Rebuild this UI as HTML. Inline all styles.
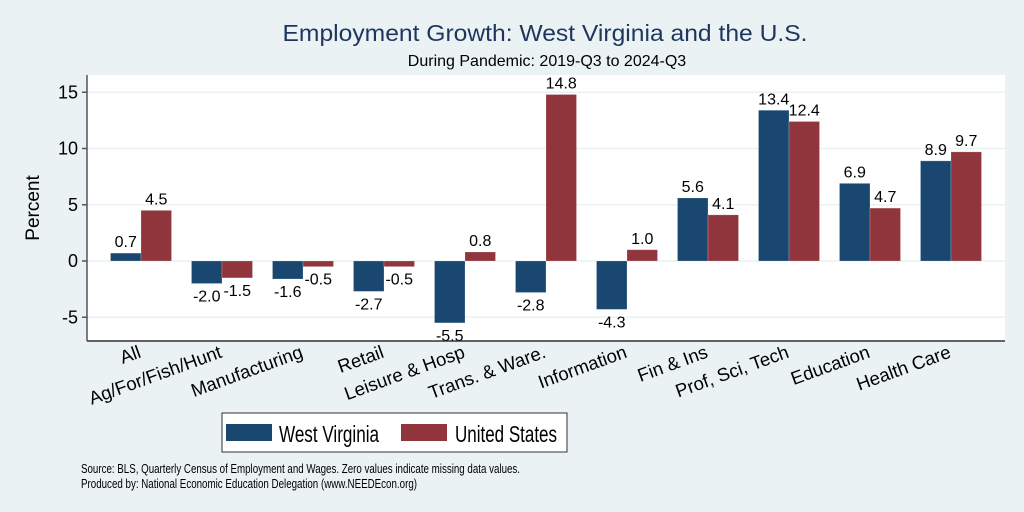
<!DOCTYPE html>
<html><head><meta charset="utf-8"><style>
html,body{margin:0;padding:0;background:#eaf2f3;}
svg{display:block;font-family:"Liberation Sans",sans-serif;}
</style></head><body>
<svg id="chart" width="1024" height="512" viewBox="0 0 1024 512">
<rect x="0" y="0" width="1024" height="512" fill="#eaf2f3"/>
<text x="545" y="41" text-anchor="middle" font-size="23" fill="#1e355e" textLength="525" lengthAdjust="spacingAndGlyphs">Employment Growth: West Virginia and the U.S.</text>
<text x="547" y="66" text-anchor="middle" font-size="16" fill="#000">During Pandemic: 2019-Q3 to 2024-Q3</text>
<rect x="87" y="75" width="918" height="266" fill="#fff"/>
<g id="grid"></g>
<g id="bars"></g>
<g id="labels"></g>
<line x1="87" y1="75" x2="87" y2="341" stroke="#555" stroke-width="1.5"/>
<line x1="87" y1="341" x2="1005" y2="341" stroke="#333" stroke-width="1.5"/>
<text transform="translate(39,208) rotate(-90)" text-anchor="middle" font-size="19">Percent</text>
<g>
<rect x="222" y="413" width="345" height="39" fill="#fff" stroke="#333" stroke-width="1"/>
<rect x="226" y="424" width="46" height="17" fill="#1a476f"/>
<text x="279" y="442" font-size="23" textLength="100" lengthAdjust="spacingAndGlyphs">West Virginia</text>
<rect x="401" y="424" width="46" height="17" fill="#90353b"/>
<text x="455" y="442" font-size="23" textLength="102" lengthAdjust="spacingAndGlyphs">United States</text>
</g>
<text x="81" y="473" font-size="13" textLength="439" lengthAdjust="spacingAndGlyphs">Source: BLS, Quarterly Census of Employment and Wages. Zero values indicate missing data values.</text>
<text x="81" y="488" font-size="13" textLength="336" lengthAdjust="spacingAndGlyphs">Produced by: National Economic Education Delegation (www.NEEDEcon.org)</text>
</svg>
<script>
const categories = ["All","Ag/For/Fish/Hunt","Manufacturing","Retail","Leisure & Hosp","Trans. & Ware.","Information","Fin & Ins","Prof, Sci, Tech","Education","Health Care"];
const westVirginia = [0.7,-2.0,-1.6,-2.7,-5.5,-2.8,-4.3,5.6,13.4,6.9,8.9];
const unitedStates = [4.5,-1.5,-0.5,-0.5,0.8,14.8,1.0,4.1,12.4,4.7,9.7];
const yTicks = [-5,0,5,10,15];

const NS="http://www.w3.org/2000/svg";
function yScale(v){return 261 - 11.25*v;}
function xCenter(i){return 141 + 81*i;}
const BW=30.5;
function mk(tag,attrs,parent){const e=document.createElementNS(NS,tag);for(const k in attrs)e.setAttribute(k,attrs[k]);parent.appendChild(e);return e;}
const grid=document.getElementById('grid'),bars=document.getElementById('bars'),labels=document.getElementById('labels'),svg=document.getElementById('chart');
yTicks.forEach(t=>{
  const y=yScale(t);
  const g=mk('line',{x1:87,x2:1005,y1:y,y2:y,stroke:'#eaf2f3','stroke-width':1.5},grid);
  
  
  const tk=mk('line',{x1:82,x2:87,y1:y,y2:y,stroke:'#555','stroke-width':1.5},grid);
  
  
  const tl=mk('text',{x:78,y:y+6,'text-anchor':'end','font-size':18},grid);
  tl.textContent=t;
  
  
});
function drawSeries(vals,color,offset,name){
  vals.forEach((v,i)=>{
    const x=xCenter(i)+offset;
    const y0=yScale(0),y1=yScale(v);
    const r=mk('rect',{x:x,y:Math.min(y0,y1),width:BW,height:Math.abs(y1-y0),fill:color,stroke:'rgba(255,255,255,0.25)','stroke-width':0.8},bars);
    
    
    const ty = v>=0 ? y1-6 : y1+18;
    const t=mk('text',{x:x+BW/2,y:ty,'text-anchor':'middle','font-size':16},labels);
    t.textContent=v.toFixed(1);
    
    
  });
}
drawSeries(westVirginia,'#1a476f',-BW,'west-virginia');
drawSeries(unitedStates,'#90353b',0,'united-states');
categories.forEach((c,i)=>{
  const x=xCenter(i)+1, y=357;
  const t=mk('text',{transform:`translate(${x},${y}) rotate(-20)`,'text-anchor':'end','font-size':18.5},svg);
  t.textContent=c;
  
  
});
</script>
</body></html>
